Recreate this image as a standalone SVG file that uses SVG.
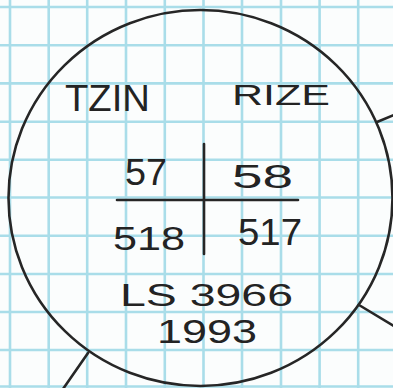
<svg xmlns="http://www.w3.org/2000/svg" width="393" height="388" viewBox="0 0 393 388">
  <style>
    .grid { stroke: #a9dde9; stroke-width: 2.6; fill: none; }
    .ink { stroke: #262626; stroke-width: 2.6; fill: none; stroke-linecap: round; }
    .hand { font-family: "Liberation Sans", "DejaVu Sans", sans-serif; fill: #232323; }
  </style>
  <rect x="0" y="0" width="393" height="388" fill="#fbfdfd"/>
  <g id="grid" class="grid">
    <path d="M10 0V388 M48.7 0V388 M87.2 0V388 M126 0V388 M164.8 0V388 M203.5 0V388 M242 0V388 M281 0V388 M319.6 0V388 M358.2 0V388"/>
    <path d="M0 7H393 M0 45.2H393 M0 83.4H393 M0 121.8H393 M0 159.8H393 M0 197.5H393 M0 235.8H393 M0 274H393 M0 312H393 M0 350H393 M0 386.5H393"/>
  </g>
  <g id="connectors" class="ink">
    <line x1="377" y1="122" x2="394" y2="115"/>
    <line x1="359" y1="305" x2="394" y2="326"/>
    <line x1="88" y1="353" x2="63" y2="389"/>
  </g>
  <g id="node-circle">
    <ellipse class="ink" cx="200.5" cy="198" rx="192" ry="188"/>
    <line class="ink" x1="204" y1="144" x2="204" y2="254"/>
    <line class="ink" x1="117" y1="200" x2="298" y2="200"/>
    <text class="hand" x="65" y="111" font-size="36" textLength="85" lengthAdjust="spacingAndGlyphs">TZIN</text>
    <text class="hand" x="232" y="105" font-size="30" textLength="98" lengthAdjust="spacingAndGlyphs">RIZE</text>
    <text class="hand" x="125" y="185" font-size="36" textLength="42" lengthAdjust="spacingAndGlyphs">57</text>
    <text class="hand" x="232" y="188" font-size="34" textLength="61" lengthAdjust="spacingAndGlyphs">58</text>
    <text class="hand" x="113" y="250" font-size="34" textLength="72" lengthAdjust="spacingAndGlyphs">518</text>
    <text class="hand" x="238" y="245" font-size="36" textLength="64" lengthAdjust="spacingAndGlyphs">517</text>
    <text class="hand" x="120" y="306" font-size="32" textLength="173" lengthAdjust="spacingAndGlyphs">LS 3966</text>
    <text class="hand" x="157" y="343" font-size="33" textLength="100" lengthAdjust="spacingAndGlyphs">1993</text>
  </g>
</svg>
